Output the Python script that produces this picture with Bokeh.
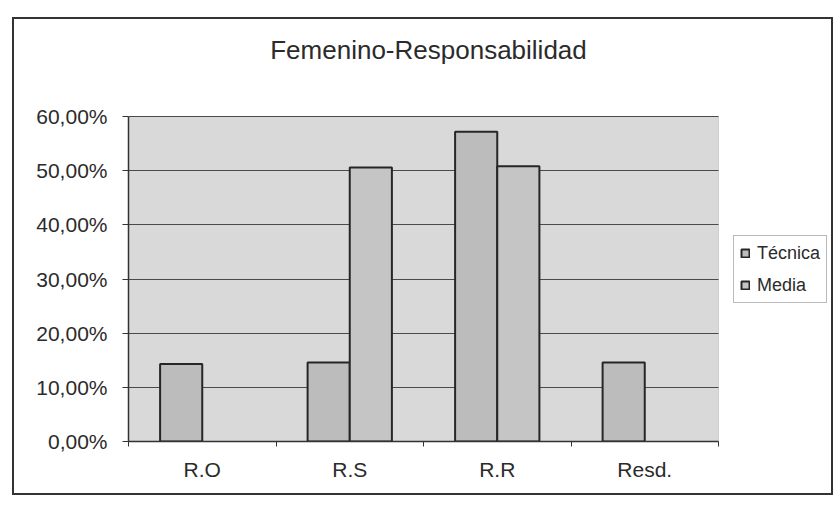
import numpy as np
from bokeh.plotting import figure
from bokeh.models import (FixedTicker, Legend, LegendItem, ColumnDataSource, Range1d,
                          BooleanFilter, CDSView, BoxAnnotation, Label)
from bokeh.embed import file_html
from bokeh.resources import INLINE

# ---- data (percent) ----
categories = ["R.O", "R.S", "R.R", "Resd."]
tecnica = [14.3, 14.6, 57.2, 14.6]
media = [0.0, 50.6, 50.8, 0.0]
y_ticks = [0, 10, 20, 30, 40, 50, 60]
y_tick_labels = ["0,00%", "10,00%", "20,00%", "30,00%", "40,00%", "50,00%", "60,00%"]
series_names = ["Técnica", "Media"]
title_text = "Femenino-Responsabilidad"

FONT = "Liberation Sans"
TEXT = "#2b2b2b"

# ---- layout geometry (pixels) ----
W, H = 821, 478
MB_L, MB_R, MB_T, MB_B = 114, 2, 2, 56
plot_w, plot_h = 590, 325          # size of the category / value area
frame_w = W - MB_L - MB_R
frame_h = H - MB_T - MB_B
n = len(categories)
y_max = y_ticks[-1]
x_end = n * frame_w / plot_w
y_end = y_max * frame_h / plot_h

x_centers = np.arange(n) + 0.5
bar_w = 1 / 3.5

p = figure(width=W, height=H, output_backend="svg", toolbar_location=None,
           x_range=Range1d(0, x_end), y_range=Range1d(0, y_end),
           min_border_left=MB_L, min_border_right=MB_R, min_border_top=MB_T, min_border_bottom=MB_B,
           background_fill_color="white", border_fill_color="white")
p.styles = {"border": "2px solid #333", "position": "relative", "left": "12px", "top": "17px"}

# plot-area background
p.add_layout(BoxAnnotation(left=0, right=n, bottom=0, top=y_max, level="image",
                           fill_color="#d9d9d9", fill_alpha=1,
                           line_color="#8a8a8a", line_width=1))

src_t = ColumnDataSource(dict(x=x_centers - bar_w / 2, top=tecnica))
src_m = ColumnDataSource(dict(x=x_centers + bar_w / 2, top=media))
view_t = CDSView(filter=BooleanFilter([v > 0 for v in tecnica]))
view_m = CDSView(filter=BooleanFilter([v > 0 for v in media]))
r1 = p.vbar(x="x", top="top", width=bar_w, bottom=0, source=src_t, view=view_t,
            fill_color="#bcbcbc", line_color="#262626", line_width=2)
r2 = p.vbar(x="x", top="top", width=bar_w, bottom=0, source=src_m, view=view_m,
            fill_color="#c5c5c5", line_color="#262626", line_width=2)

# title (placed above the value area)
p.add_layout(Label(x=300 / plot_w * n, y=392 / plot_h * y_max, text=title_text,
                   text_align="center", text_baseline="middle",
                   text_font=FONT, text_font_size="26px", text_color=TEXT))

# x axis
xa = p.xaxis[0]
xa.bounds = (0, n)
xa.ticker = FixedTicker(ticks=list(x_centers), minor_ticks=list(range(n + 1)))
xa.major_label_overrides = {float(x): c for x, c in zip(x_centers, categories)}
xa.major_tick_line_color = None
xa.major_tick_out = 0
xa.major_tick_in = 0
xa.minor_tick_line_color = "#333"
xa.minor_tick_out = 5
xa.minor_tick_in = 0
xa.axis_line_color = "#333"
xa.axis_line_width = 1.5
xa.major_label_text_font = FONT
xa.major_label_text_font_size = "21px"
xa.major_label_text_color = TEXT
xa.major_label_standoff = 11

# y axis
ya = p.yaxis[0]
ya.bounds = (0, y_max)
ya.ticker = FixedTicker(ticks=y_ticks, minor_ticks=[])
ya.major_label_overrides = {t: l for t, l in zip(y_ticks, y_tick_labels)}
ya.major_tick_line_color = "#333"
ya.major_tick_out = 6
ya.major_tick_in = 0
ya.minor_tick_line_color = None
ya.axis_line_color = "#333"
ya.axis_line_width = 1.5
ya.major_label_text_font = FONT
ya.major_label_text_font_size = "21px"
ya.major_label_text_color = TEXT
ya.major_label_standoff = 15

# grid
p.xgrid.grid_line_color = None
p.ygrid.ticker = FixedTicker(ticks=y_ticks)
p.ygrid.cross_bounds = (0, n)
p.ygrid.grid_line_color = "#4a4a4a"
p.ygrid.grid_line_width = 1
p.outline_line_color = None

legend = Legend(items=[LegendItem(label=series_names[0], renderers=[r1]),
                       LegendItem(label=series_names[1], renderers=[r2])],
                location=(605, 138), orientation="vertical",
                label_text_font=FONT, label_text_font_size="18px", label_text_color=TEXT,
                glyph_width=10, glyph_height=10, label_height=22, spacing=10, padding=6,
                label_standoff=7, margin=0,
                border_line_color="#777", border_line_width=1,
                background_fill_color="white", background_fill_alpha=1)
p.add_layout(legend, "center")

open("out.html", "w").write(file_html(p, INLINE))
